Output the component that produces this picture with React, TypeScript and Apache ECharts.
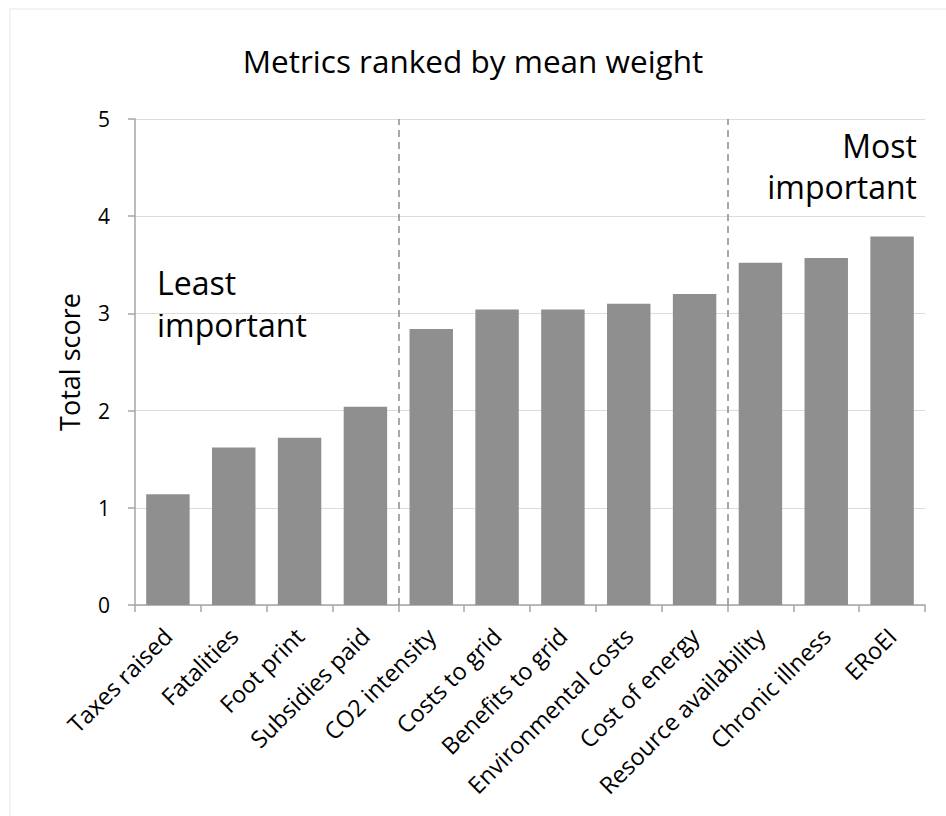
import React, { useEffect, useRef } from "react";
import * as echarts from "echarts";

const categories = [
  "Taxes raised",
  "Fatalities",
  "Foot print",
  "Subsidies paid",
  "CO2 intensity",
  "Costs to grid",
  "Benefits to grid",
  "Environmental costs",
  "Cost of energy",
  "Resource availability",
  "Chronic illness",
  "ERoEI",
];
const scores = [1.14, 1.62, 1.72, 2.04, 2.84, 3.04, 3.04, 3.1, 3.2, 3.52, 3.57, 3.79];
const dividers = [4, 9];
const yTicks = [0, 1, 2, 3, 4, 5];
const titleText = "Metrics ranked by mean weight";
const yAxisName = "Total score";
const leastLines = ["Least", "important"];
const mostLines = ["Most", "important"];

const FONT = "'Open Sans', 'Noto Sans', sans-serif";

export default function App() {
  const ref = useRef<HTMLDivElement>(null);
  useEffect(() => {
    if (!ref.current) return;
    const chart = echarts.init(ref.current, undefined, { renderer: "svg" });
    const annoStyle = { fontSize: 32, fontFamily: FONT, fill: "#000", lineHeight: 42 };
    chart.setOption({
      animation: false,
      backgroundColor: "#ffffff",
      textStyle: { fontFamily: FONT },
      title: {
        text: titleText,
        left: "center",
        top: 39,
        textStyle: { fontFamily: FONT, fontSize: 31.5, fontWeight: "normal", color: "#000" },
      },
      grid: { left: 135, right: 21, top: 119, bottom: 211, containLabel: false },
      xAxis: [
        {
          type: "category",
          data: categories,
          boundaryGap: true,
          axisLine: { show: true, lineStyle: { color: "#a6a6a6", width: 1.5 } },
          axisTick: { show: true, alignWithLabel: false, length: 7, lineStyle: { color: "#a6a6a6", width: 1.5 } },
          axisLabel: {
            rotate: 45,
            interval: 0,
            margin: 27,
            fontSize: 23.5,
            color: "#000",
            fontFamily: FONT,
          },
          splitLine: { show: false },
        },
        {
          type: "value",
          min: 0,
          max: categories.length,
          show: false,
          position: "bottom",
        },
      ],
      yAxis: {
        type: "value",
        min: 0,
        max: 5,
        interval: 1,
        name: yAxisName,
        nameLocation: "middle",
        nameGap: 52,
        nameRotate: 90,
        nameTextStyle: { fontSize: 27, color: "#000", fontFamily: FONT },
        axisLine: { show: true, lineStyle: { color: "#a6a6a6", width: 1.5 } },
        axisTick: { show: true, length: 7, lineStyle: { color: "#a6a6a6", width: 1.5 } },
        axisLabel: {
          fontSize: 21,
          color: "#000",
          margin: 25,
          fontFamily: FONT,
          formatter: (v: number) => (yTicks.includes(v) ? String(v) : ""),
        },
        splitLine: { show: true, lineStyle: { color: "#dcdcdc", width: 1.2 } },
      },
      series: [
        {
          type: "bar",
          data: scores,
          barCategoryGap: "34%",
          itemStyle: { color: "#8f8f8f" },
          z: 2,
        },
        {
          type: "line",
          xAxisIndex: 1,
          data: [],
          silent: true,
          markLine: {
            silent: true,
            symbol: ["none", "none"],
            label: { show: false },
            lineStyle: { color: "#8c8c8c", type: [7, 5], width: 1.5 },
            data: dividers.map((d) => ({ xAxis: d })),
            z: 3,
          },
        },
      ],
      graphic: [
        {
          type: "rect",
          shape: { x: 10, y: 9, width: 946, height: 816 },
          style: { fill: "none", stroke: "#f0f0f0", lineWidth: 1.5 },
          silent: true,
          z: -1,
        },
        { type: "text", left: 157, top: 261, style: { ...annoStyle, text: leastLines[0] } },
        { type: "text", left: 157, top: 303, style: { ...annoStyle, text: leastLines[1] } },
        { type: "text", right: 29, top: 124, style: { ...annoStyle, text: mostLines[0] } },
        { type: "text", right: 29, top: 165, style: { ...annoStyle, text: mostLines[1] } },
      ],
    });
    return () => chart.dispose();
  }, []);
  return (
    <div
      ref={ref}
      style={{ position: "fixed", left: 0, top: 0, width: 946, height: 816, background: "#fff" }}
    />
  );
}
